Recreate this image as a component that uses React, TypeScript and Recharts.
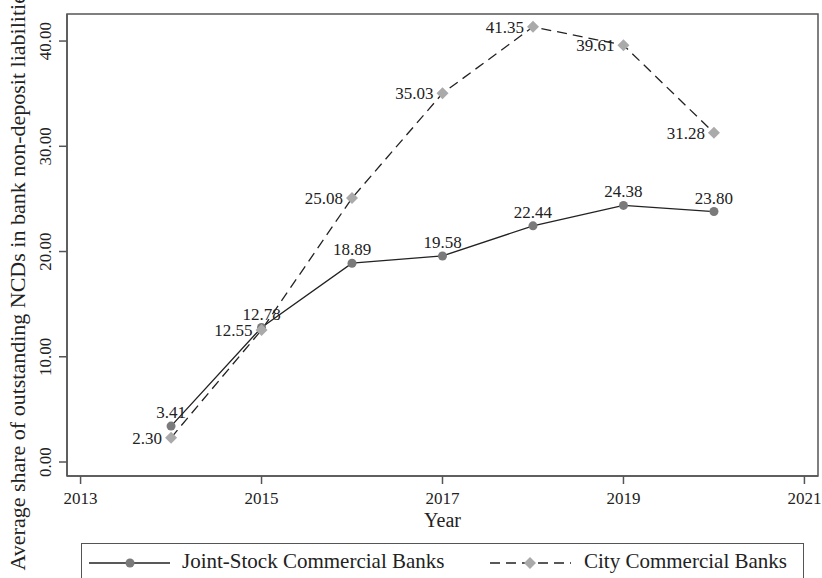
import { LineChart, Line, XAxis, YAxis, Legend, LabelList, ReferenceArea } from 'recharts';

const years = [2014, 2015, 2016, 2017, 2018, 2019, 2020];
const jointStock = [3.41, 12.78, 18.89, 19.58, 22.44, 24.38, 23.8];
const cityBanks = [2.3, 12.55, 25.08, 35.03, 41.35, 39.61, 31.28];
const xTicks = [2013, 2015, 2017, 2019, 2021];
const yTicks = [0, 10, 20, 30, 40];

const data = years.map((year, i) => ({ year, jsc: jointStock[i], city: cityBanks[i] }));

const FONT = '"Liberation Serif", "DejaVu Serif", serif';
const FRAME = '#555555';
const X_DOMAIN: [number, number] = [2012.85, 2021.15];
const Y_DOMAIN: [number, number] = [-1.33, 42.57];

const CircleDot = (props: any) => {
  const { cx, cy } = props;
  if (cx == null || cy == null) return null;
  return <circle cx={cx} cy={cy} r={4.5} fill="#7a7a7a" />;
};

const DiamondDot = (props: any) => {
  const { cx, cy } = props;
  if (cx == null || cy == null) return null;
  const s = 6;
  return (
    <path
      d={`M${cx},${cy - s}L${cx + s},${cy}L${cx},${cy + s}L${cx - s},${cy}Z`}
      fill="#aaaaaa"
    />
  );
};

const TopLabel = (props: any) => {
  const { x, y, value } = props;
  return (
    <text x={x} y={y - 8} textAnchor="middle" fontFamily={FONT} fontSize={17} fill="#222">
      {Number(value).toFixed(2)}
    </text>
  );
};

const LeftLabel = (props: any) => {
  const { x, y, value } = props;
  return (
    <text x={x - 9} y={y + 6} textAnchor="end" fontFamily={FONT} fontSize={17} fill="#222">
      {Number(value).toFixed(2)}
    </text>
  );
};

const XTick = (props: any) => {
  const { x, y, payload } = props;
  return (
    <text x={x} y={y + 18} textAnchor="middle" fontFamily={FONT} fontSize={17} fill="#222">
      {payload.value}
    </text>
  );
};

const YTick = (props: any) => {
  const { x, y, payload } = props;
  return (
    <text
      x={x - 6}
      y={y}
      transform={`rotate(-90, ${x - 6}, ${y})`}
      textAnchor="middle"
      fontFamily={FONT}
      fontSize={17}
      fill="#222"
    >
      {Number(payload.value).toFixed(2)}
    </text>
  );
};

const YTitle = () => (
  <text
    x={25}
    y={278}
    transform="rotate(-90, 25, 278)"
    textAnchor="middle"
    fontFamily={FONT}
    fontSize={22}
    fill="#222"
  >
    Average share of outstanding NCDs in bank non-deposit liabilities
  </text>
);

const LegendBox = () => (
  <div
    style={{
      marginLeft: 81,
      width: 723,
      height: 35,
      boxSizing: 'border-box',
      borderTop: `1.5px solid ${FRAME}`,
      borderLeft: `1.5px solid ${FRAME}`,
      borderRight: `1.5px solid ${FRAME}`,
      fontFamily: FONT,
      fontSize: 21,
      color: '#222',
      position: 'relative',
    }}
  >
    <svg width={90} height={30} style={{ position: 'absolute', left: 6, top: 4 }}>
      <line x1={1} y1={15} x2={82} y2={15} stroke="#222" strokeWidth={1.3} />
      <circle cx={42} cy={15} r={4.5} fill="#7a7a7a" />
    </svg>
    <span style={{ position: 'absolute', left: 100, top: 5, whiteSpace: 'nowrap' }}>
      Joint-Stock Commercial Banks
    </span>
    <svg width={90} height={30} style={{ position: 'absolute', left: 407, top: 4 }}>
      <line x1={1} y1={15} x2={82} y2={15} stroke="#222" strokeWidth={1.3} strokeDasharray="10 6" />
      <path d="M41,9L47,15L41,21L35,15Z" fill="#aaaaaa" />
    </svg>
    <span style={{ position: 'absolute', left: 502, top: 5, whiteSpace: 'nowrap' }}>
      City Commercial Banks
    </span>
  </div>
);

export default function App() {
  return (
    <div style={{ position: 'absolute', left: 0, top: 0, background: '#fff' }}>
      <LineChart width={822} height={578} data={data} margin={{ top: 14, right: 4, left: 0, bottom: 0 }}>
        <XAxis
          dataKey="year"
          type="number"
          domain={X_DOMAIN}
          ticks={xTicks}
          allowDataOverflow
          height={67}
          tick={<XTick />}
          tickSize={8}
          stroke={FRAME}
          strokeWidth={1.5}
          label={{
            value: 'Year',
            position: 'insideBottom',
            offset: 16,
            fontFamily: FONT,
            fontSize: 20,
            fill: '#222',
          }}
        />
        <YAxis
          type="number"
          domain={Y_DOMAIN}
          ticks={yTicks}
          allowDataOverflow
          width={67}
          tick={<YTick />}
          tickSize={8}
          stroke={FRAME}
          strokeWidth={1.5}
          label={{ content: <YTitle /> }}
        />
        <ReferenceArea
          x1={X_DOMAIN[0]}
          x2={X_DOMAIN[1]}
          y1={Y_DOMAIN[0]}
          y2={Y_DOMAIN[1]}
          fill="none"
          fillOpacity={0}
          stroke={FRAME}
          strokeWidth={1.5}
          ifOverflow="visible"
        />
        <Legend verticalAlign="bottom" content={<LegendBox />} />
        <Line
          dataKey="jsc"
          name="Joint-Stock Commercial Banks"
          stroke="#222"
          strokeWidth={1.3}
          dot={<CircleDot />}
          activeDot={false}
          isAnimationActive={false}
        >
          <LabelList dataKey="jsc" content={<TopLabel />} />
        </Line>
        <Line
          dataKey="city"
          name="City Commercial Banks"
          stroke="#222"
          strokeWidth={1.3}
          strokeDasharray="10 6"
          dot={<DiamondDot />}
          activeDot={false}
          isAnimationActive={false}
        >
          <LabelList dataKey="city" content={<LeftLabel />} />
        </Line>
      </LineChart>
    </div>
  );
}
